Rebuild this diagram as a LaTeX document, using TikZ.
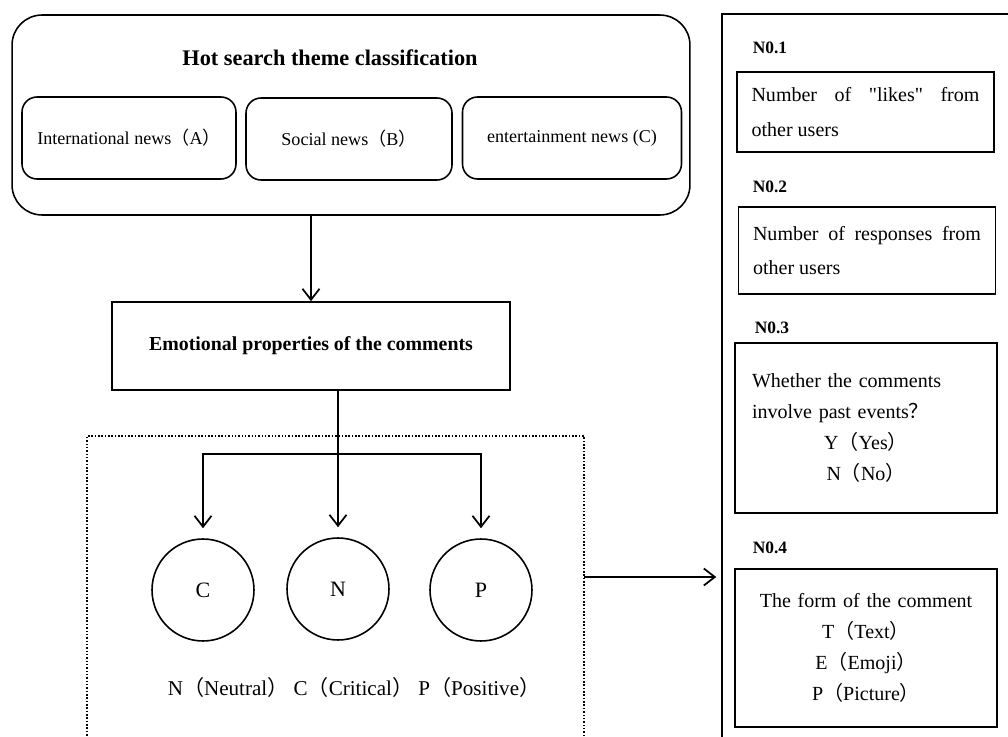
\documentclass[tikz,border=0pt]{standalone}
\usepackage{fontspec}
\setmainfont{Liberation Serif}
\newfontfamily\rawserif{Liberation Serif}
\newfontfamily\cjk{Noto Sans CJK SC}
\newcommand{\fwl}{{\cjk （}}
\newcommand{\fwr}{{\cjk ）}}
\newcommand{\dq}{{\rawserif"}}
\usetikzlibrary{arrows.meta}

\begin{document}
\begin{tikzpicture}[x=0.02cm,y=-0.02cm,line width=0.9pt,
  >={Straight Barb[length=2.2mm,width=3.4mm,line width=1pt]},
  bigbox/.style={draw,rounded corners=6mm,minimum width=135.6mm,minimum height=40mm},
  newsbox/.style={draw,rounded corners=3mm,minimum height=16.4mm,font=\fontsize{10.3}{12}\selectfont},
  emobox/.style={draw,minimum width=79.6mm,minimum height=17.6mm,font=\bfseries\fontsize{11.3}{14}\selectfont},
  sentiment/.style={draw,circle,minimum size=20.4mm,inner sep=0pt,text height=8.5pt,text depth=0pt,font=\fontsize{12.5}{14}\selectfont},
  nolabel/.style={anchor=west,inner sep=0pt,font=\bfseries\fontsize{9.9}{12}\selectfont},
  itembox/.style={draw,minimum width=51.4mm,text width=45.6mm,inner xsep=2.9mm},
  ]
  \clip (0,0) rectangle (1008,737);

  \node[bigbox] (theme) at (351,115) {};
  \node[font=\bfseries\fontsize{12.7}{15}\selectfont] (title) at (330,58) {Hot search theme classification};
  \node[newsbox,minimum width=42.8mm] (intl) at (129,138) {International news\fwl A\fwr};
  \node[newsbox,minimum width=41.2mm] (social) at (349,139) {Social news\fwl B\fwr};
  \node[newsbox,minimum width=43.8mm] (ent) at (572,138) {entertainment news (C)};

  \node[emobox] (emo) at (311,346) {Emotional properties of the comments};
  \node[draw,densely dotted,minimum width=99.4mm,minimum height=64.8mm] (group) at (335.5,598) {};
  \node[sentiment] (C) at (203,590) {C};
  \node[sentiment] (N) at (338,589) {N};
  \node[sentiment] (P) at (481,590) {P};
  \node[font=\fontsize{12}{14}\selectfont] (legend) at (354,687)
    {N\fwl Neutral\fwr\ C\fwl Critical\fwr\ P\fwl Positive\fwr};

  \node[draw,minimum width=61.6mm,minimum height=149.2mm] (panel) at (876,387) {};
  \node[nolabel] (n1) at (752,48) {N0.1};
  \node[itembox,minimum height=16mm,align=justify,font=\fontsize{11.4}{19.5}\selectfont]
    (likes) at (865.5,112) {\hyphenpenalty=10000\relax Number of \dq likes\dq{} from other users};
  \node[nolabel] (n2) at (752,187) {N0.2};
  \node[itembox,minimum height=17.4mm,align=justify,font=\fontsize{11.4}{19.5}\selectfont]
    (replies) at (867,250.5) {\hyphenpenalty=10000\relax Number of responses from other users};
  \node[nolabel] (n3) at (754,328) {N0.3};
  \node[itembox,minimum width=52.4mm,minimum height=34mm,align=left,font=\fontsize{11.4}{17.5}\selectfont]
    (past) at (866,428) {Whether the comments\\involve past events{\cjk ？}\par
    {\centering Y\fwl Yes\fwr\\N\fwl No\fwr\par}};
  \node[nolabel] (n4) at (752,548) {N0.4};
  \node[itembox,minimum width=52.4mm,minimum height=31.6mm,align=center,font=\fontsize{11.4}{17.6}\selectfont]
    (form) at (866,648) {The form of the comment\\T\fwl Text\fwr\\E\fwl Emoji\fwr\\P\fwl Picture\fwr};

  \coordinate (split) at (338,454);
  \coordinate (exit) at (584,577);
  \draw[->] (emo.north |- theme.south) -- (emo.north);
  \draw[->,shorten >=2mm] (N.north |- emo.south) -- (N.north);
  \draw[->,shorten >=2mm] (split) -| (C.north);
  \draw[->,shorten >=2mm] (split) -| (P.north);
  \draw[->,shorten >=1mm] (exit) -- (exit -| panel.west);
\end{tikzpicture}
\end{document}
